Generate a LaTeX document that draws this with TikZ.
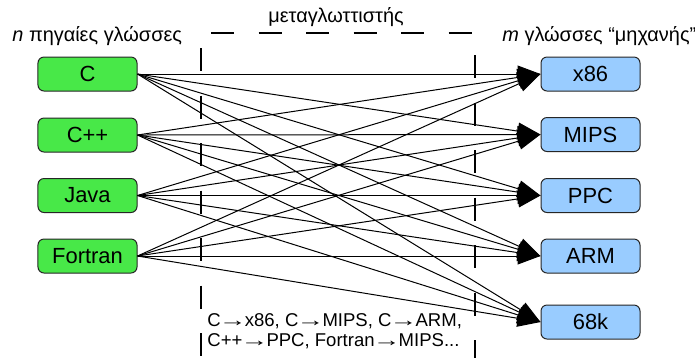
\documentclass[tikz,border=0pt]{standalone}
\usepackage{fontspec}
\setmainfont{Liberation Sans}
\usepackage{graphicx}
\usepackage{tikz}
\usetikzlibrary{arrows.meta}
\definecolor{srcgreen}{RGB}{72,232,72}
\definecolor{tgtblue}{RGB}{153,204,255}
\newcommand{\langto}{\kern-0.1em\scalebox{1.5}[1]{→}\kern-0.1em}

\begin{document}
\begin{tikzpicture}[x=0.5bp, y=-0.5bp,
    lang/.style={draw=black!85, line width=0.5bp, rounded corners=3bp,
        minimum width=49.5bp, minimum height=17bp, inner sep=0pt,
        font=\fontsize{11}{13}\selectfont},
    src/.style={lang, fill=srcgreen},
    tgt/.style={lang, fill=tgtblue},
    conv/.style={-{Triangle[length=11.5bp,width=8.5bp]}, line width=0.5bp},
    frame/.style={line width=0.6bp, dash pattern=on 11.5bp off 12.25bp}]
    \useasboundingbox (0,0) rectangle (695,358);

    % compiler frame
    \draw[frame] (211,33) -- (475,33);
    \draw[frame] (201,48) -- (201,358);
    \draw[frame] (475,55) -- (475,358);

    \node[font=\fontsize{10}{12}\selectfont, anchor=base] (comp) at (336,22) {μεταγλωττιστής};
    \node[font=\fontsize{10}{12}\selectfont, anchor=base west, inner sep=0pt] (srctitle) at (12,41) {\textit{n} πηγαίες γλώσσες};
    \node[font=\fontsize{10}{12}\selectfont, anchor=base west, inner sep=0pt] (tgttitle) at (502,41) {\textit{m} γλώσσες “μηχανής”};

    % source languages
    \node[src] (C) at (87.5,74) {C};
    \node[src] (Cpp) at (87.5,135) {C++};
    \node[src] (Java) at (87.5,195.5) {Java};
    \node[src] (Fortran) at (87.5,256) {Fortran};

    % machine languages
    \node[tgt] (x86) at (590.5,74) {x86};
    \node[tgt] (MIPS) at (590.5,134.5) {MIPS};
    \node[tgt] (PPC) at (590.5,195.5) {PPC};
    \node[tgt] (ARM) at (590.5,256) {ARM};
    \node[tgt] (k68) at (590.5,322) {68k};

    \draw[conv] (C.east) -- (x86.west);
    \draw[conv] (C.east) -- (MIPS.west);
    \draw[conv] (C.east) -- (PPC.west);
    \draw[conv] (C.east) -- (ARM.west);
    \draw[conv] (C.east) -- (k68.west);

    \draw[conv] (Cpp.east) -- (x86.west);
    \draw[conv] (Cpp.east) -- (MIPS.west);
    \draw[conv] (Cpp.east) -- (PPC.west);
    \draw[conv] (Cpp.east) -- (ARM.west);
    \draw[conv] (Cpp.east) -- (k68.west);

    \draw[conv] (Java.east) -- (x86.west);
    \draw[conv] (Java.east) -- (MIPS.west);
    \draw[conv] (Java.east) -- (PPC.west);
    \draw[conv] (Java.east) -- (ARM.west);
    \draw[conv] (Java.east) -- (k68.west);

    \draw[conv] (Fortran.east) -- (x86.west);
    \draw[conv] (Fortran.east) -- (MIPS.west);
    \draw[conv] (Fortran.east) -- (PPC.west);
    \draw[conv] (Fortran.east) -- (ARM.west);
    \draw[conv] (Fortran.east) -- (k68.west);

    \node[font=\fontsize{9.3}{10}\selectfont, align=left, anchor=north west, inner sep=0pt] (pairs) at (207,313)
        {C\langto x86, C\langto MIPS, C\langto ARM,\\C++\langto PPC, Fortran\langto MIPS...};
\end{tikzpicture}
\end{document}
